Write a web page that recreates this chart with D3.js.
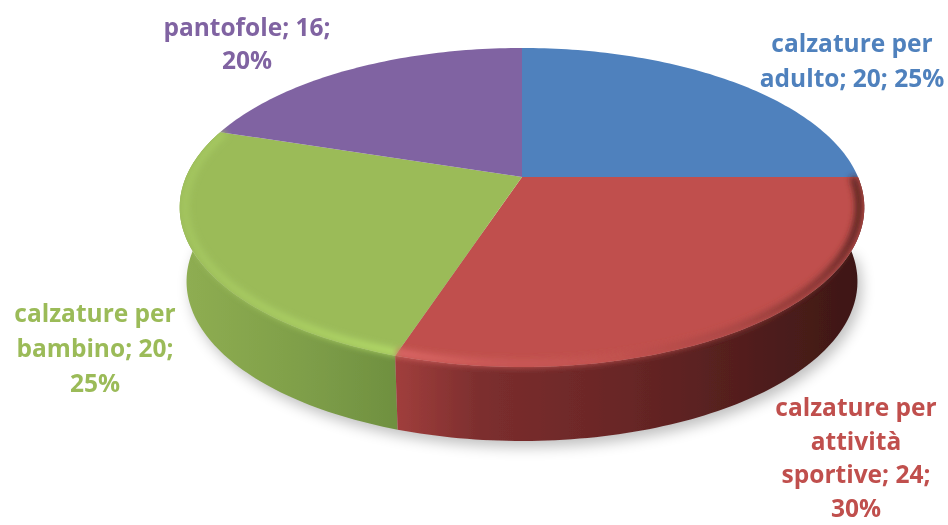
<!DOCTYPE html>
<html>
<head>
<meta charset="utf-8">
<script src="https://cdnjs.cloudflare.com/ajax/libs/d3/7.8.5/d3.min.js"></script>
<style>
  html, body { margin: 0; background: #fff; }
  text { font-family: "Open Sans", Lato, sans-serif; font-weight: 700; font-size: 24.5px; text-anchor: middle; }
</style>
</head>
<body>
<svg id="chart" width="948" height="525"></svg>
<script>
const categories = ["calzature per adulto", "calzature per attività sportive", "calzature per bambino", "pantofole"];
const values = [20, 24, 20, 16];
const percents = ["25%", "30%", "25%", "20%"];
const colors = ["#4f81bd", "#c0504d", "#9bbb59", "#8064a2"];

// wrapped label text, same order as categories
const labelLines = [
  ["calzature per", "adulto; 20; 25%"],
  ["calzature per", "attività", "sportive; 24;", "30%"],
  ["calzature per", "bambino; 20;", "25%"],
  ["pantofole; 16;", "20%"]
];
const labelX = [852, 856, 95, 247];
const labelY = [43, 407, 313, 27];
const lineGap = [35, 33.7, 35, 33];

// perspective of the disc
const cx = 522, cy = 177, R = 336, B = 153.7, k = 0.191;
const depth = 74, bottomScale = 0.98;

function project(a, r) {
  const u = Math.sin(a) * r, v = -Math.cos(a) * r;
  const w = 1 - k * v;
  return [cx + R * u / w, cy + B * v / w];
}
function projectBottom(a) {
  const p = project(a, 1);
  return [cx + (p[0] - cx) * bottomScale, p[1] + depth];
}
function samples(a0, a1) {
  const n = Math.max(2, Math.ceil((a1 - a0) / 0.02));
  return d3.range(n + 1).map(i => a0 + (a1 - a0) * i / n);
}

const line = d3.line();
const svg = d3.select("#chart");
const defs = svg.append("defs");

function blur(id, s) {
  defs.append("filter").attr("id", id)
    .attr("x", "-20%").attr("y", "-20%").attr("width", "140%").attr("height", "140%")
    .append("feGaussianBlur").attr("stdDeviation", s);
}
blur("soft", 0.6);
blur("rimBlur", 3);
blur("shadowBlur", 7);
blur("textBlur", 0.5);

function gradient(id, stops) {
  const g = defs.append("linearGradient").attr("id", id)
    .attr("gradientUnits", "userSpaceOnUse")
    .attr("x1", 180).attr("x2", 866).attr("y1", 0).attr("y2", 0);
  stops.forEach(s => g.append("stop").attr("offset", (s[0] - 180) / 686).attr("stop-color", s[1]));
}
gradient("sideRed", [[397, "#a03e3c"], [480, "#7c2e2e"], [620, "#692626"], [866, "#3c1715"]]);
gradient("sideGreen", [[180, "#8fae52"], [300, "#7f9f49"], [397, "#6f9040"]]);
gradient("rimRed", [[397, "#de6a68"], [500, "#cc5a58"], [620, "#c25250"], [740, "#a54442"], [820, "#7e3230"], [866, "#4c1d1b"]]);
gradient("rimGreen", [[180, "#a4c65f"], [300, "#abd064"], [397, "#b4dc69"]]);

const pie = d3.pie().sort(null).value(d => d)(values);

const chart = svg.append("g").attr("filter", "url(#soft)");

// soft shadow under the front edge
const front = samples(pie[1].startAngle, pie[2].endAngle);
chart.append("path")
  .attr("d", line(front.map(projectBottom).map(p => [p[0] + 4, p[1] + 6])) + "Z")
  .attr("fill", "#000").attr("opacity", 0.25).attr("filter", "url(#shadowBlur)");

// outline of the whole solid, keeps the bevel glow inside it
const topOutline = samples(0, 2 * Math.PI).map(a => project(a, 1));
const clip = defs.append("clipPath").attr("id", "solid");
clip.append("path").attr("d", line(topOutline) + "Z");
clip.append("path").attr("d", line(front.map(a => project(a, 1)).concat(front.slice().reverse().map(projectBottom))) + "Z");

// side walls, only the two front slices show them
const walls = [{ i: 2, fill: "url(#sideGreen)", rim: "url(#rimGreen)" }, { i: 1, fill: "url(#sideRed)", rim: "url(#rimRed)" }];
walls.forEach(w => {
  const s = samples(pie[w.i].startAngle, pie[w.i].endAngle);
  const pts = s.map(a => project(a, 1)).concat(s.slice().reverse().map(projectBottom));
  chart.append("path").attr("d", line(pts) + "Z").attr("fill", w.fill);
});

// top faces
chart.selectAll(".top").data(pie).enter().append("path")
  .attr("class", "top")
  .attr("d", d => line([[cx, cy]].concat(samples(d.startAngle, d.endAngle).map(a => project(a, 1)))) + "Z")
  .attr("fill", (d, i) => colors[i]);

// lit bevel along the front rim
const bevel = chart.append("g").attr("clip-path", "url(#solid)");
walls.forEach(w => {
  const s = samples(pie[w.i].startAngle, pie[w.i].endAngle);
  bevel.append("path")
    .attr("d", line(s.map(a => project(a, 0.985))))
    .attr("fill", "none").attr("stroke", w.rim).attr("stroke-width", 7)
    .attr("filter", "url(#rimBlur)");
});

// labels
const labels = svg.append("g").attr("filter", "url(#textBlur)");
categories.forEach((c, i) => {
  labelLines[i].forEach((t, j) => {
    labels.append("text")
      .attr("x", labelX[i])
      .attr("y", labelY[i] + j * lineGap[i] + 9)
      .attr("fill", colors[i])
      .text(t);
  });
});
</script>
</body>
</html>
